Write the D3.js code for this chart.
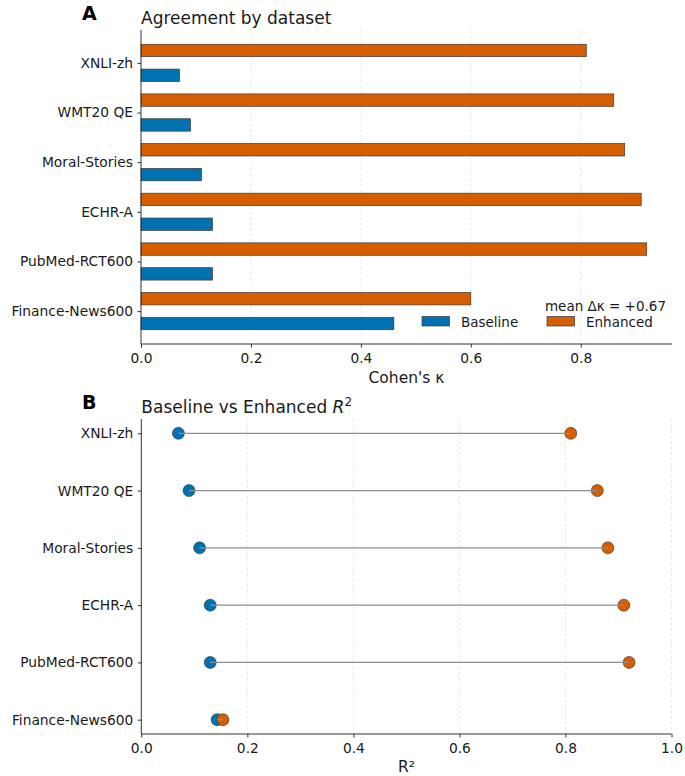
<!DOCTYPE html>
<html>
<head>
<meta charset="utf-8">
<script src="https://cdn.jsdelivr.net/npm/d3@7"></script>
<style>
  html, body { margin: 0; padding: 0; background: #fff; }
  svg { display: block; }
  svg text { font-family: "DejaVu Sans", sans-serif; }
</style>
</head>
<body>
<svg id="chart" width="685" height="776"></svg>
<script>
// Datasets, top to bottom
const datasets = ["XNLI-zh", "WMT20 QE", "Moral-Stories", "ECHR-A", "PubMed-RCT600", "Finance-News600"];
// Panel A: Cohen's kappa
const kappaBaseline = [0.07, 0.09, 0.11, 0.13, 0.13, 0.46];
const kappaEnhanced = [0.81, 0.86, 0.88, 0.91, 0.92, 0.60];
const kappaTicks = [0.0, 0.2, 0.4, 0.6, 0.8];
// Panel B: R²
const r2Baseline = [0.07, 0.09, 0.11, 0.13, 0.13, 0.143];
const r2Enhanced = [0.81, 0.86, 0.88, 0.91, 0.92, 0.154];
const r2Ticks = [0.0, 0.2, 0.4, 0.6, 0.8, 1.0];
const seriesNames = ["Baseline", "Enhanced"];

const BLUE = "#0072B2", ORANGE = "#D55E00";
const SPINE = "#333", TEXT = "#1a1a1a", GRID = "#e3e3e3";
const FONT = "DejaVu Sans, sans-serif";
const TICK_FS = "13.8px";

const svg = d3.select("#chart");
const fmt = d3.format(".1f");
const meanDelta = d3.mean(kappaEnhanced.map((v, i) => v - kappaBaseline[i]));

function styleAxis(g) {
  g.attr("font-family", FONT).attr("font-size", 13.8);
  g.selectAll(".domain").attr("stroke", SPINE).attr("stroke-width", 1);
  g.selectAll(".tick line").attr("stroke", SPINE).attr("stroke-width", 1);
  g.selectAll(".tick text").attr("fill", TEXT).style("font-size", TICK_FS).style("font-family", FONT);
}

// ---------- Panel A: grouped horizontal bars ----------
{
  const L = 141, R = 672, T = 30, B = 344;
  const xMax = d3.max(kappaEnhanced.concat(kappaBaseline)) * 1.05;
  const x = d3.scaleLinear().domain([0, xMax]).range([L, R]);
  const y = d3.scaleLinear().domain([-0.6625, datasets.length - 1 + 0.6625]).range([T, B]);
  const bh = y(0.25) - y(0);
  const g = svg.append("g");

  // grid
  g.append("g").selectAll("line").data(kappaTicks.slice(1)).join("line")
    .attr("x1", d => x(d)).attr("x2", d => x(d)).attr("y1", T).attr("y2", B)
    .attr("stroke", GRID).attr("stroke-width", 0.8).attr("stroke-dasharray", "3,2.5");

  // bars
  g.append("g").selectAll("rect").data(kappaEnhanced).join("rect")
    .attr("x", x(0)).attr("y", (d, i) => y(i - 0.25) - bh / 2)
    .attr("width", d => x(d) - x(0)).attr("height", bh)
    .attr("fill", ORANGE).attr("stroke", "#3a3a3a").attr("stroke-width", 0.7);
  g.append("g").selectAll("rect").data(kappaBaseline).join("rect")
    .attr("x", x(0)).attr("y", (d, i) => y(i + 0.25) - bh / 2)
    .attr("width", d => x(d) - x(0)).attr("height", bh)
    .attr("fill", BLUE).attr("stroke", "#3a3a3a").attr("stroke-width", 0.7);

  // axes
  const yAxis = d3.axisLeft(y).tickValues(d3.range(datasets.length))
    .tickFormat(i => datasets[i]).tickSize(3.5).tickPadding(4.5);
  g.append("g").attr("transform", `translate(${L},0)`).call(yAxis).call(styleAxis)
    .select(".domain").attr("d", `M0,${T}V${B}`);
  const xAxis = d3.axisBottom(x).tickValues(kappaTicks).tickFormat(fmt).tickSize(3.5).tickPadding(5.5);
  g.append("g").attr("transform", `translate(0,${B})`).call(xAxis).call(styleAxis)
    .select(".domain").attr("d", `M${L},0H${R}`);

  g.append("text").attr("x", (L + R) / 2).attr("y", 383).attr("text-anchor", "middle")
    .attr("fill", TEXT).style("font-size", "15.5px").text("Cohen's κ");
  g.append("text").attr("x", L).attr("y", 24).attr("fill", TEXT)
    .style("font-size", "17px").text("Agreement by dataset");
  g.append("text").attr("x", 82).attr("y", 19.5).attr("fill", "#000")
    .style("font-size", "19px").style("font-weight", "bold").text("A");

  // legend
  const lg = g.append("g");
  lg.append("text").attr("x", 666).attr("y", 311).attr("text-anchor", "end")
    .attr("fill", TEXT).style("font-size", "13.5px")
    .text(`mean Δκ = ${meanDelta >= 0 ? "+" : ""}${meanDelta.toFixed(2)}`);
  const items = [{ name: seriesNames[0], color: BLUE, x: 422 }, { name: seriesNames[1], color: ORANGE, x: 547 }];
  items.forEach(it => {
    lg.append("rect").attr("x", it.x).attr("y", 316.5).attr("width", 27.5).attr("height", 9.5)
      .attr("fill", it.color).attr("stroke", "#3a3a3a").attr("stroke-width", 0.7);
    lg.append("text").attr("x", it.x + 39).attr("y", 326.5).attr("fill", TEXT)
      .style("font-size", "13.5px").text(it.name);
  });
}

// ---------- Panel B: dumbbell ----------
{
  const L = 141.3, R = 671.5, T = 419, B = 734;
  const x = d3.scaleLinear().domain([0, 1]).range([L, R]);
  const y = d3.scaleLinear().domain([-0.25, datasets.length - 1 + 0.25]).range([T, B]);
  const g = svg.append("g");

  g.append("g").selectAll("line").data(r2Ticks.slice(1)).join("line")
    .attr("x1", d => x(d)).attr("x2", d => x(d)).attr("y1", T).attr("y2", B)
    .attr("stroke", GRID).attr("stroke-width", 0.8).attr("stroke-dasharray", "3,2.5");

  const rows = datasets.map((d, i) => ({ i, b: r2Baseline[i], e: r2Enhanced[i] }));

  g.append("g").selectAll("circle").data(rows).join("circle")
    .attr("cx", d => x(d.b)).attr("cy", d => y(d.i)).attr("r", 6)
    .attr("fill", BLUE).attr("stroke", "#333").attr("stroke-width", 0.6);
  g.append("g").selectAll("circle").data(rows).join("circle")
    .attr("cx", d => x(d.e)).attr("cy", d => y(d.i)).attr("r", 6)
    .attr("fill", ORANGE).attr("stroke", "#333").attr("stroke-width", 0.6);
  g.append("g").selectAll("line").data(rows).join("line")
    .attr("x1", d => x(d.b)).attr("x2", d => x(d.e))
    .attr("y1", d => y(d.i)).attr("y2", d => y(d.i))
    .attr("stroke", "#8f8f8f").attr("stroke-width", 1.3);

  const yAxis = d3.axisLeft(y).tickValues(d3.range(datasets.length))
    .tickFormat(i => datasets[i]).tickSize(3.5).tickPadding(4.5);
  g.append("g").attr("transform", `translate(${L},0)`).call(yAxis).call(styleAxis)
    .select(".domain").attr("d", `M0,${T}V${B}`);
  const xAxis = d3.axisBottom(x).tickValues(r2Ticks).tickFormat(fmt).tickSize(3.5).tickPadding(5.5);
  g.append("g").attr("transform", `translate(0,${B})`).call(xAxis).call(styleAxis)
    .select(".domain").attr("d", `M${L},0H${R}`);

  g.append("text").attr("x", (L + R) / 2).attr("y", 772).attr("text-anchor", "middle")
    .attr("fill", TEXT).style("font-size", "15.5px").text("R²");
  const title = g.append("text").attr("x", L).attr("y", 413).attr("fill", TEXT).style("font-size", "17px");
  title.append("tspan").text("Baseline vs Enhanced ");
  title.append("tspan").style("font-style", "italic").text("R");
  title.append("tspan").attr("dy", -7).style("font-size", "12px").text("2");
  g.append("text").attr("x", 82).attr("y", 408.5).attr("fill", "#000")
    .style("font-size", "19px").style("font-weight", "bold").text("B");
}
</script>
</body>
</html>
